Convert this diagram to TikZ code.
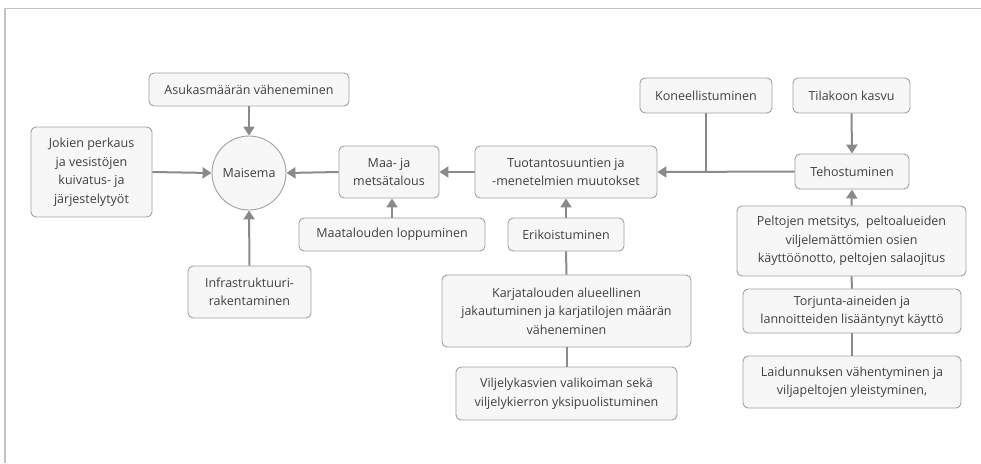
\documentclass[tikz,border=0pt]{standalone}
\usepackage{fontspec}
\setmainfont{Open Sans}
\usetikzlibrary{arrows.meta}
\definecolor{boxfill}{HTML}{F7F7F7}
\definecolor{boxline}{HTML}{A0A0A0}
\definecolor{connc}{HTML}{8A8A8A}
\definecolor{txt}{HTML}{404040}
\definecolor{framec}{HTML}{C4C4C4}
\begin{document}
\begin{tikzpicture}[x=1pt,y=-1pt,
 box/.style={draw=boxline, fill=boxfill, rounded corners=5pt, line width=0.9pt, align=center, text=txt, font=\fontsize{12.5}{18.5}\selectfont, inner sep=0pt},
 circ/.style={draw=boxline, fill=boxfill, circle, line width=0.9pt, text=txt, font=\fontsize{12.5}{18.5}\selectfont, inner sep=0pt},
 link/.style={draw=connc, line width=2pt},
 arr/.style={link, -{Triangle[length=9pt,width=11pt]}},
 framel/.style={draw=framec, line width=1.8pt}]
\useasboundingbox (0,0) rectangle (981,463);
\draw[framel] (5,463) -- (5,8.5) -- (981,8.5);

\node[box, minimum width=200pt, minimum height=33pt] (asuk) at (249,89.5) {Asukasmäärän väheneminen};
\node[circ, minimum size=74pt] (mais) at (249,173) {Maisema};
\node[box, minimum width=121pt, minimum height=90pt] (jok) at (91.5,172) {Jokien perkaus\\ja vesistöjen\\kuivatus- ja\\järjestelytyöt};
\node[box, minimum width=123pt, minimum height=52pt] (infra) at (249.5,292) {Infrastruktuuri-\\rakentaminen};
\node[box, minimum width=186pt, minimum height=33pt] (maatal) at (392,234.5) {Maatalouden loppuminen};
\node[box, minimum width=100pt, minimum height=52pt] (maa) at (389,172) {Maa- ja\\metsätalous};
\node[box, minimum width=182pt, minimum height=52pt] (tuot) at (566,172) {Tuotantosuuntien ja\\-menetelmien muutokset};
\node[box, minimum width=116pt, minimum height=33pt] (erik) at (566,234.5) {Erikoistuminen};
\node[box, minimum width=249pt, minimum height=72pt] (karja) at (566.5,311) {Karjatalouden alueellinen\\jakautuminen ja karjatilojen määrän\\väheneminen};
\node[box, minimum width=221pt, minimum height=53pt] (vilj) at (566.5,393.5) {Viljelykasvien valikoiman sekä\\viljelykierron yksipuolistuminen};
\node[box, minimum width=132pt, minimum height=35pt] (kone) at (706,95.5) {Koneellistuminen};
\node[box, minimum width=117pt, minimum height=35pt] (tila) at (851.5,95.5) {Tilakoon kasvu};
\node[box, minimum width=114pt, minimum height=35pt] (teho) at (852,171.5) {Tehostuminen};
\node[box, minimum width=229pt, minimum height=70pt] (pelt) at (851.5,241) {Peltojen metsitys,~ peltoalueiden\\viljelemättömien osien\\käyttöönotto, peltojen salaojitus};
\node[box, minimum width=218pt, minimum height=44pt] (torj) at (852,311) {Torjunta-aineiden ja\\lannoitteiden lisääntynyt käyttö};
\node[box, minimum width=218pt, minimum height=52pt] (laid) at (852,382) {Laidunnuksen vähentyminen ja\\viljapeltojen yleistyminen,};

\draw[arr] (asuk.south) -- (mais.north);
\draw[arr] (jok.east) -- (mais.west);
\draw[arr] (infra.north) -- (mais.south);
\draw[arr] (maa.west) -- (mais.east);
\draw[arr] (tuot.west) -- (maa.east);
\draw[arr] (maatal.north) -- (maatal.north |- maa.south);
\draw[arr] (erik.north) -- (tuot.south);
\draw[link] (erik.south) -- (karja.north);
\draw[link] (karja.south) -- (vilj.north);
\coordinate (junc) at (kone.south |- teho.west);
\draw[arr] (teho.west) -- (tuot.east);
\draw[link] (kone.south) -- (junc);
\draw[arr] (tila.south) -- (teho.north);
\draw[arr] (pelt.north) -- (teho.south);
\draw[link] (pelt.south) -- (torj.north);
\draw[link] (torj.south) -- (laid.north);
\end{tikzpicture}
\end{document}
